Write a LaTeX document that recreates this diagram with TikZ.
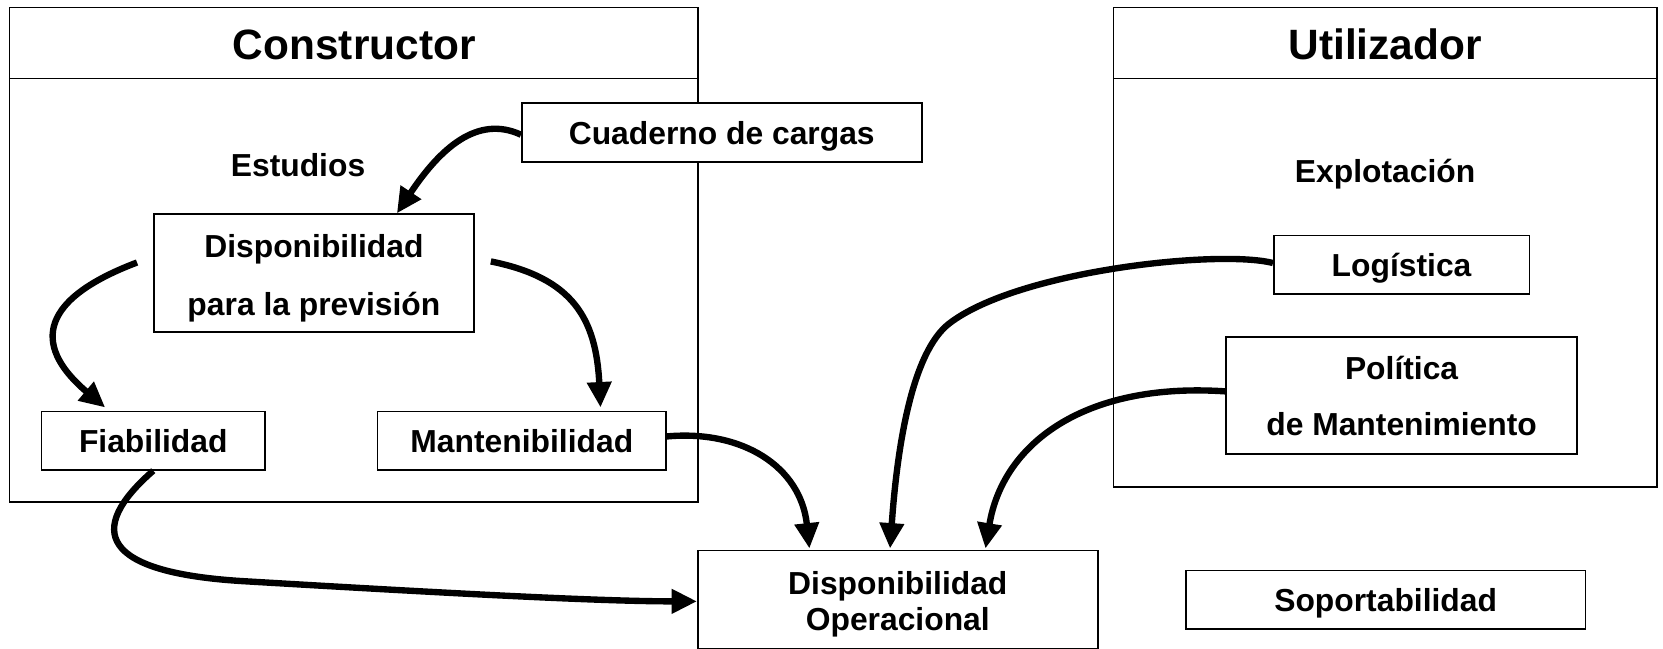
\documentclass[tikz,border=0pt]{standalone}
\usepackage{fontspec}
\setmainfont{Liberation Sans}
\usetikzlibrary{arrows.meta,calc}
\begin{document}
\begin{tikzpicture}[x=1pt,y=-1pt,
  frame/.style={line width=1.6pt},
  box/.style={draw,fill=white,line width=1.6pt,inner sep=0pt,align=center,font=\fontsize{30}{36}\selectfont\bfseries},
  one/.style={text depth=0pt},
  lbl/.style={inner sep=0pt,text depth=0pt,font=\fontsize{30}{36}\selectfont\bfseries},
  ttl/.style={inner sep=0pt,text depth=0pt,font=\fontsize{40}{48}\selectfont\bfseries},
  conn/.style={line width=6pt,-{Triangle[length=24pt,width=22pt]}},
]
\useasboundingbox (0,0) rectangle (1568,611);
% containers
\draw[frame] (9,7) rectangle (658,473);
\draw[frame] (9,74) -- (658,74);
\draw[frame] (1050,7) rectangle (1562,459);
\draw[frame] (1050,74) -- (1562,74);
\node[ttl] (tcons) at (334,42) {Constructor};
\node[ttl] (tutil) at (1306,42) {Utilizador};
\node[lbl] (estud) at (281,156) {Estudios};
\node[lbl] (explot) at (1306,161) {Explotación};
% boxes
\node[box,one,minimum width=377pt,minimum height=56pt] (cuad) at (680.5,125) {Cuaderno de cargas};
\node[box,minimum width=302pt,minimum height=111pt,font=\fontsize{30}{55}\selectfont\bfseries] (disp) at (296,257.5) {\rule{0pt}{32pt}Disponibilidad\\para la previsión};
\node[box,one,minimum width=211pt,minimum height=55pt] (fiab) at (144.5,415.5) {Fiabilidad};
\node[box,one,minimum width=272pt,minimum height=55pt] (mant) at (492,415.5) {Mantenibilidad};
\node[box,minimum width=377pt,minimum height=93pt,font=\fontsize{30}{34}\selectfont\bfseries] (oper) at (846.5,565.5) {\rule{0pt}{30pt}Disponibilidad\\Operacional};
\node[box,one,minimum width=377pt,minimum height=55pt] (sop) at (1306.5,565.5) {Soportabilidad};
\node[box,one,minimum width=241pt,minimum height=55pt] (log) at (1321.5,249.5) {Logística};
\node[box,minimum width=331pt,minimum height=110pt,font=\fontsize{30}{53}\selectfont\bfseries] (pol) at (1321.5,373) {Política\\de Mantenimiento};
% connectors
\draw[conn] ($(cuad.west)+(0,2)$) .. controls (450,108) and (415,140) .. ($(disp.north west)+(230,0)$);
\draw[conn] ($(disp.west)+(-15,-10)$) .. controls (30,285) and (35,330) .. ($(fiab.north west)+(61,-3)$);
\draw[conn] ($(disp.east)+(15,-11)$) .. controls (540,262) and (562,300) .. ($(mant.north west)+(211,-3)$);
\draw[conn] ($(mant.east)+(0,-4)$) .. controls (700,405) and (755,440) .. ($(oper.north west)+(106,-1)$);
\draw[conn] (fiab.south) .. controls (80,500) and (95,540) .. (230,548) .. controls (400,558) and (560,567) .. ($(oper.west)+(0,1.5)$);
\draw[conn] ($(log.west)+(0,-1.5)$) .. controls (1150,235) and (960,255) .. (895,305) .. controls (860,332) and (846,420) .. ($(oper.north west)+(182,-1)$);
\draw[conn] ($(pol.west)+(0,-4)$) .. controls (1020,360) and (945,420) .. ($(oper.north west)+(272,-1)$);
\end{tikzpicture}
\end{document}
